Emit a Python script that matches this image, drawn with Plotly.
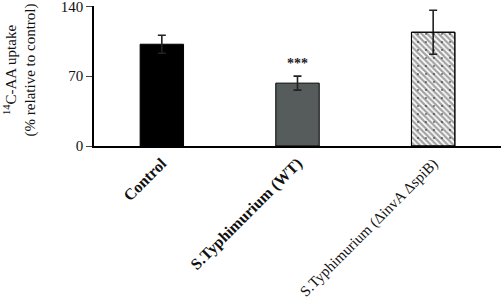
import plotly.graph_objects as go

categories = ["Control", "S.Typhimurium (WT)", "S.Typhimurium (ΔinvA ΔspiB)"]
tick_labels = ["<b>Control</b>", "<b>S.Typhimurium (WT)</b>",
               "<span style='font-size:15px'>S.Typhimurium (ΔinvA ΔspiB)</span>"]
values = [102, 63, 114]
errors = [9, 7, 22]
colors = ["#000000", "#565b5b", "#ffffff"]
y_ticks = [0, 70, 140]
stars = "***"

fig = go.Figure()
fig.add_trace(go.Bar(
    x=[0, 1, 2], y=values,
    width=0.32,
    marker=dict(
        color=colors,
        line=dict(color="#000000", width=1),
        pattern=dict(shape=["", "", "\\"], fgcolor="#000000", bgcolor="#ffffff", size=4, solidity=0.55),
    ),
    error_y=dict(type="data", array=errors, visible=True, color="#222222", thickness=1.6, width=4),
))
# dotted overlay on the mutant bar
fig.add_trace(go.Bar(
    x=[2], y=[values[2]], width=0.32,
    marker=dict(color="rgba(0,0,0,0)", line=dict(color="#000000", width=1),
                pattern=dict(shape=".", fgcolor="#000000", bgcolor="rgba(0,0,0,0)", size=8, solidity=0.06)),
    hoverinfo="skip",
))
fig.add_annotation(x=1, y=83, text="<b>" + stars + "</b>", showarrow=False,
                   font=dict(size=14, color="#222222", family="Liberation Serif"))
fig.add_annotation(xref="paper", yref="paper", x=(20 - 94) / 407, y=0.54,
                   text="<sup>14</sup>C-AA uptake<br>(% relative to control)", textangle=-90,
                   showarrow=False, xanchor="center", yanchor="middle",
                   font=dict(size=15, color="#111111", family="Liberation Serif"))
fig.update_layout(
    width=501, height=306,
    margin=dict(l=94, r=0, t=6, b=160),
    paper_bgcolor="white", plot_bgcolor="white",
    showlegend=False, barmode="overlay",
    font=dict(family="Liberation Serif", color="#111111", size=13),
    xaxis=dict(range=[-0.5, 2.5], tickmode="array", tickvals=[0, 1, 2], ticktext=tick_labels,
               tickangle=-45, showline=True, linecolor="#000000", linewidth=1.5,
               ticks="", showgrid=False, zeroline=False, tickfont=dict(size=16), automargin=False),
    yaxis=dict(range=[0, 140.3], tickmode="array", tickvals=y_ticks, showline=True,
               linecolor="#000000", linewidth=1.5, ticks="outside", ticklen=6, tickwidth=1.2,
               showgrid=False, zeroline=False, tickfont=dict(size=15), automargin=False,
               ticklabeloverflow="allow"),
)
fig.write_html("out.html", config={"displayModeBar": False},
               post_script="document.body.style.margin='0';document.body.style.overflow='hidden';")
